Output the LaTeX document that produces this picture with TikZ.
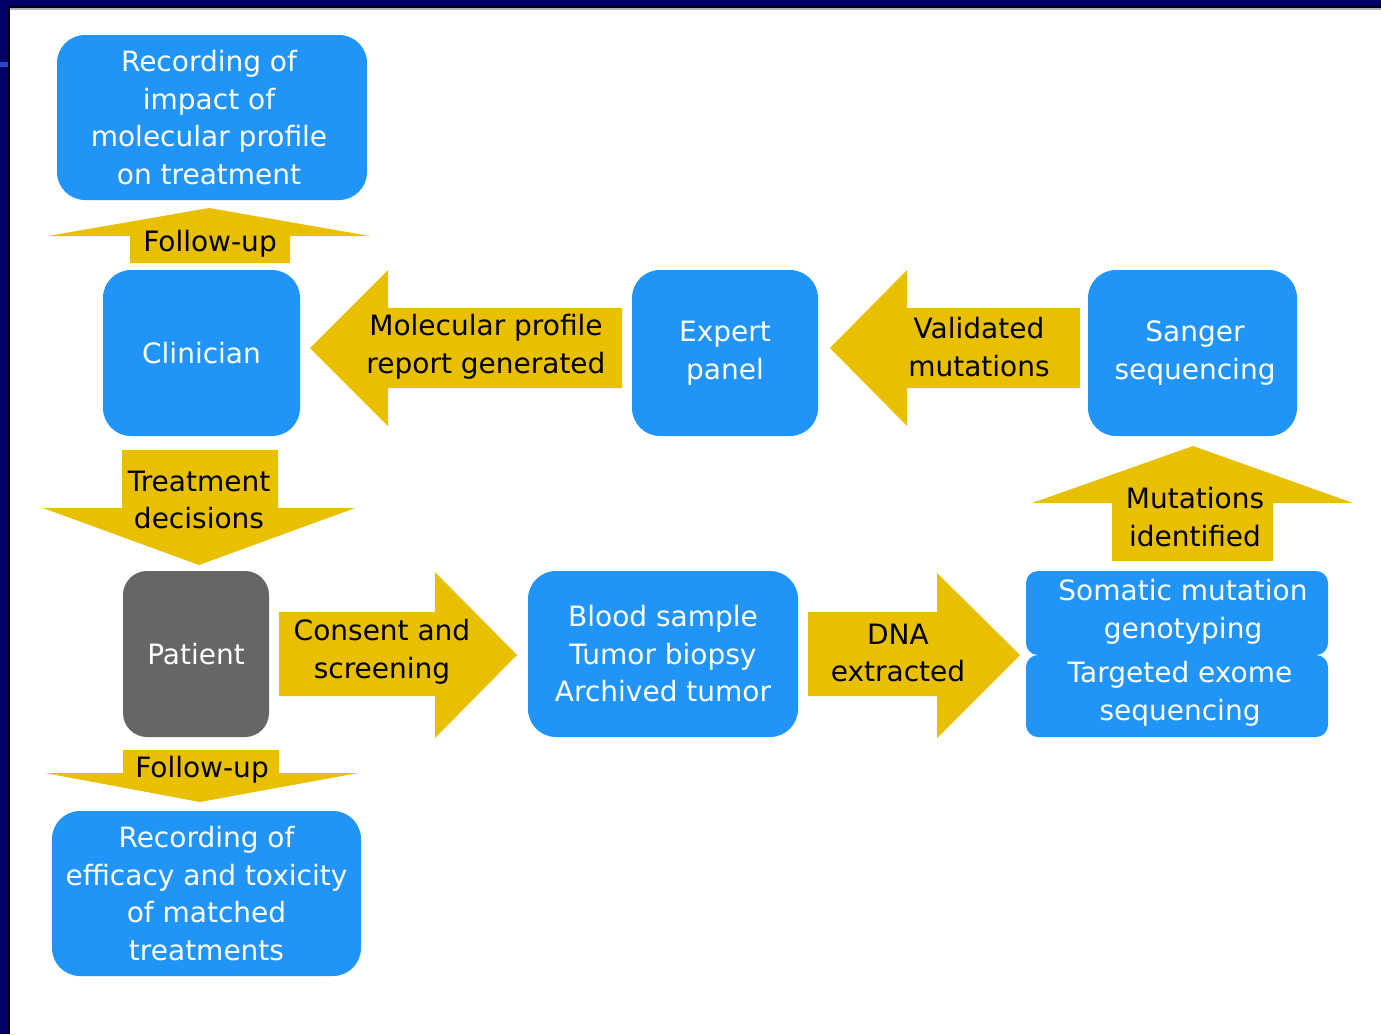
\documentclass[tikz,border=0pt]{standalone}
\usepackage{fontspec}
\setmainfont{DejaVu Sans}
\definecolor{boxblue}{RGB}{33,148,248}
\definecolor{gold}{RGB}{232,192,0}
\definecolor{pgray}{RGB}{102,102,102}
\definecolor{navy}{RGB}{0,0,102}
\definecolor{markblue}{RGB}{40,70,200}
\newcommand\lbl{\fontsize{28}{37.5}\selectfont}
\tikzset{
  box/.style={fill=boxblue, rounded corners=28pt, text=white, align=center, font=\lbl, inner sep=0pt},
  sbox/.style={box, rounded corners=12pt},
  gbox/.style={box, fill=pgray, rounded corners=24pt},
  fat/.style={fill=gold},
  atext/.style={text=black, align=center, font=\lbl, inner sep=0pt},
  wtext/.style={text=white, align=center, font=\lbl, inner sep=0pt}
}
\begin{document}
\begin{tikzpicture}[x=1pt,y=-1pt]
\useasboundingbox (0,0) rectangle (1381,1034);
% frame
\fill[white] (0,0) rectangle (1381,1034);
\fill[navy] (0,0) rectangle (1381,6);
\fill[navy] (0,0) rectangle (8,1034);
\fill[black] (8,6) rectangle (1381,8);
\fill[black] (8,6) rectangle (10,1034);
\fill[black!30] (10,8) rectangle (1381,9.5);
\fill[markblue] (0,62) rectangle (8,67);
% boxes
\node[box, minimum width=310, minimum height=165] (impact) at (212,117.5) {};
\node[wtext] (impactt) at (209,117.5) {Recording of\\impact of\\molecular profile\\on treatment};
\node[box, minimum width=197, minimum height=166] (clin) at (201.5,353) {Clinician};
\node[box, minimum width=186, minimum height=166] (expert) at (725,353) {Expert\\panel};
\node[box, minimum width=209, minimum height=166] (sanger) at (1192.5,353) {};
\node[wtext] (sangert) at (1195,353) {Sanger\\sequencing};
\node[gbox, minimum width=146, minimum height=166] (patient) at (196,654) {Patient};
\node[box, minimum width=270, minimum height=166] (blood) at (663,654) {Blood sample\\Tumor biopsy\\Archived tumor};
\node[sbox, minimum width=302, minimum height=84] (somatic) at (1177,613) {};
\node[wtext] (somatict) at (1183,612) {Somatic mutation\\genotyping};
\node[sbox, minimum width=302, minimum height=82] (exome) at (1177,696) {};
\node[wtext] (exomet) at (1180,694) {Targeted exome\\sequencing};
\node[box, minimum width=309, minimum height=165] (efficacy) at (206.5,893.5) {Recording of\\efficacy and toxicity\\of matched\\treatments};
% fat arrows
\fill[fat] (130,263) -- (130,236) -- (48,236) -- (209,208) -- (370,236) -- (290,236) -- (290,263) -- cycle;
\node[atext] (fu1) at (210,244) {Follow-up};
\fill[fat] (622,308) -- (388,308) -- (388,270) -- (310,348) -- (388,426) -- (388,388) -- (622,388) -- cycle;
\node[atext] (mpr) at (486,347) {Molecular profile\\report generated};
\fill[fat] (1080,308) -- (907,308) -- (907,270) -- (830,348) -- (907,426) -- (907,388) -- (1080,388) -- cycle;
\node[atext] (valid) at (979,347) {Validated\\mutations};
\fill[fat] (122,450) -- (278,450) -- (278,508) -- (355,508) -- (199,565) -- (43,508) -- (122,508) -- cycle;
\node[atext] (treat) at (199,500) {Treatment\\decisions};
\fill[fat] (1112,561) -- (1112,503) -- (1032,503) -- (1193,446) -- (1353,503) -- (1273,503) -- (1273,561) -- cycle;
\node[atext] (mutid) at (1195,517) {Mutations\\identified};
\fill[fat] (279,612) -- (435,612) -- (435,572) -- (517,655) -- (435,738) -- (435,696) -- (279,696) -- cycle;
\node[atext] (consent) at (382,652) {Consent and\\screening};
\fill[fat] (808,612) -- (937,612) -- (937,573) -- (1020,655) -- (937,738) -- (937,696) -- (808,696) -- cycle;
\node[atext] (dna) at (898,653) {DNA\\extracted};
\fill[fat] (123,750) -- (279,750) -- (279,773) -- (358,773) -- (200,802) -- (45,773) -- (123,773) -- cycle;
\node[atext] (fu2) at (202,770) {Follow-up};
\end{tikzpicture}
\end{document}
